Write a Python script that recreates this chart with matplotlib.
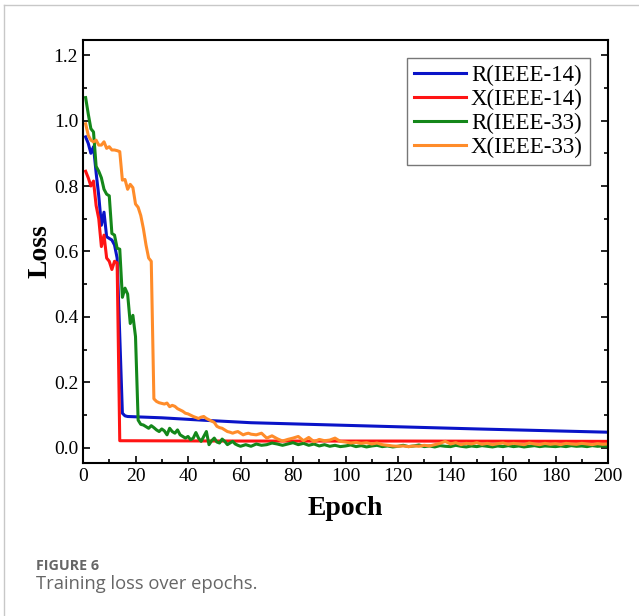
import matplotlib.pyplot as plt
from matplotlib.lines import Line2D
from matplotlib.ticker import MultipleLocator

# R(IEEE-14)
r14_epoch = [1, 2, 3, 4, 5, 6, 7, 8, 9, 10, 11, 12, 13, 15, 16, 17, 30, 45, 64, 100, 150, 200]
r14_loss = [0.95, 0.93, 0.90, 0.92, 0.84, 0.77, 0.68, 0.72, 0.645, 0.64, 0.635, 0.62, 0.58,
            0.106, 0.098, 0.096, 0.092, 0.085, 0.077, 0.069, 0.058, 0.048]

# X(IEEE-14)
x14_epoch = [1, 2, 3, 4, 5, 6, 7, 8, 9, 10, 11, 12, 13, 14, 60, 120, 200]
x14_loss = [0.845, 0.825, 0.80, 0.815, 0.74, 0.70, 0.615, 0.65, 0.58, 0.57, 0.545, 0.57, 0.565,
            0.022, 0.021, 0.021, 0.020]

# R(IEEE-33)
r33_epoch = list(range(1, 61)) + list(range(62, 201, 2))
r33_loss = [1.07, 1.02, 0.975, 0.965, 0.86, 0.845, 0.825, 0.79, 0.775, 0.77,
            0.655, 0.65, 0.61, 0.607, 0.46, 0.488, 0.47, 0.38, 0.405, 0.34,
            0.085, 0.072, 0.07, 0.065, 0.06, 0.068, 0.062, 0.055, 0.05, 0.058,
            0.052, 0.04, 0.06, 0.05, 0.045, 0.055, 0.04, 0.035, 0.03, 0.035,
            0.025, 0.03, 0.047, 0.03, 0.02, 0.035, 0.05, 0.01, 0.022, 0.03,
            0.018, 0.015, 0.027, 0.02, 0.01, 0.015, 0.02, 0.012, 0.008, 0.005,
            0.01, 0.005, 0.012, 0.008, 0.01, 0.015, 0.012, 0.008, 0.012, 0.016,
            0.01, 0.014, 0.008, 0.012, 0.006, 0.01, 0.005, 0.008, 0.004, 0.006,
            0.009, 0.004, 0.007, 0.003, 0.006, 0.008, 0.004, 0.006, 0.003, 0.005,
            0.008, 0.004, 0.006, 0.009, 0.004, 0.006, 0.003, 0.007, 0.005, 0.004,
            0.008, 0.005, 0.003, 0.006, 0.004, 0.007, 0.005, 0.003, 0.006, 0.004,
            0.007, 0.004, 0.006, 0.003, 0.005, 0.007, 0.004, 0.006, 0.005, 0.004,
            0.006, 0.004, 0.007, 0.005, 0.006, 0.004, 0.007, 0.005, 0.006, 0.005]

# X(IEEE-33)
x33_epoch = list(range(1, 65)) + list(range(66, 201, 2))
x33_loss = [0.99, 0.955, 0.94, 0.935, 0.94, 0.925, 0.925, 0.935, 0.915, 0.92,
            0.91, 0.91, 0.908, 0.905, 0.818, 0.82, 0.79, 0.805, 0.795, 0.745,
            0.735, 0.71, 0.67, 0.62, 0.58, 0.57, 0.15, 0.142, 0.138, 0.136,
            0.134, 0.137, 0.126, 0.13, 0.127, 0.12, 0.116, 0.112, 0.106, 0.104,
            0.10, 0.096, 0.093, 0.09, 0.094, 0.096, 0.09, 0.086, 0.082, 0.078,
            0.066, 0.062, 0.06, 0.055, 0.05, 0.048, 0.045, 0.048, 0.05, 0.045,
            0.04, 0.043, 0.045, 0.042,
            0.04, 0.045, 0.03, 0.037, 0.028, 0.021, 0.026, 0.03, 0.035, 0.022,
            0.032, 0.019, 0.026, 0.022, 0.024, 0.03, 0.02, 0.018, 0.015, 0.017,
            0.014, 0.016, 0.012, 0.015, 0.01, 0.008, 0.006, 0.005, 0.006, 0.004,
            0.006, 0.005, 0.008, 0.006, 0.01, 0.014, 0.02, 0.012, 0.016, 0.01,
            0.014, 0.012, 0.016, 0.011, 0.014, 0.01, 0.013, 0.015, 0.011, 0.014,
            0.012, 0.01, 0.015, 0.012, 0.01, 0.014, 0.011, 0.013, 0.01, 0.014,
            0.012, 0.011, 0.014, 0.012, 0.01, 0.013, 0.011, 0.012]

labels = ["R(IEEE-14)", "X(IEEE-14)", "R(IEEE-33)", "X(IEEE-33)"]
colors = ["#0a14c8", "#ff1414", "#14871a", "#ff8c2a"]

serif = "Liberation Serif"
fig = plt.figure(figsize=(6.39, 6.16), dpi=100)
ax = fig.add_axes([0.1299, 0.2484, 0.8216, 0.6867])

series = [(r14_epoch, r14_loss), (x14_epoch, x14_loss), (r33_epoch, r33_loss), (x33_epoch, x33_loss)]
for (ep, loss), lab, c in zip(series, labels, colors):
    ax.plot(ep, loss, color=c, lw=2.2, label=lab, solid_joinstyle="round")

ax.set_xlim(0, 200)
ax.set_ylim(-0.046, 1.246)
ax.xaxis.set_major_locator(MultipleLocator(20))
ax.xaxis.set_minor_locator(MultipleLocator(10))
ax.yaxis.set_major_locator(MultipleLocator(0.2))
ax.yaxis.set_minor_locator(MultipleLocator(0.1))
ax.tick_params(which="both", direction="in", top=False, right=True, width=1.2)
ax.tick_params(which="major", length=5, labelsize=14)
ax.tick_params(which="minor", length=3)
ax.set_yticks([0, 0.2, 0.4, 0.6, 0.8, 1.0, 1.2])
ax.set_yticklabels(["0.0", "0.2", "0.4", "0.6", "0.8", "1.0", "1.2"])
for t in ax.get_xticklabels() + ax.get_yticklabels():
    t.set_fontfamily(serif)
for s in ax.spines.values():
    s.set_linewidth(1.5)

ax.set_xlabel("Epoch", fontfamily=serif, fontweight="bold", fontsize=20, labelpad=8)
ax.set_ylabel("Loss", fontfamily=serif, fontweight="bold", fontsize=20, labelpad=1)

leg = ax.legend(loc="upper right", prop={"family": serif, "size": 16.5}, fancybox=False,
                edgecolor="#777777", framealpha=1, handlelength=2.3, handletextpad=0.2,
                labelspacing=0.12, borderaxespad=0.8, borderpad=0.3)
leg.get_frame().set_linewidth(1.0)

# page frame and caption
fig.add_artist(Line2D([4 / 639, 4 / 639], [0, 1 - 5 / 616], color="#c8c8c8", lw=1))
fig.add_artist(Line2D([4 / 639, 1], [1 - 5 / 616, 1 - 5 / 616], color="#c8c8c8", lw=1))
fig.text(36 / 639, 1 - 570 / 616, "FIGURE 6", fontfamily="Open Sans", fontweight="bold",
         fontsize=10.3, color="#666666")
fig.text(36 / 639, 1 - 589 / 616, "Training loss over epochs.", fontfamily="Open Sans",
         fontsize=13.2, color="#666666")

fig.savefig("out.png", dpi=100)
